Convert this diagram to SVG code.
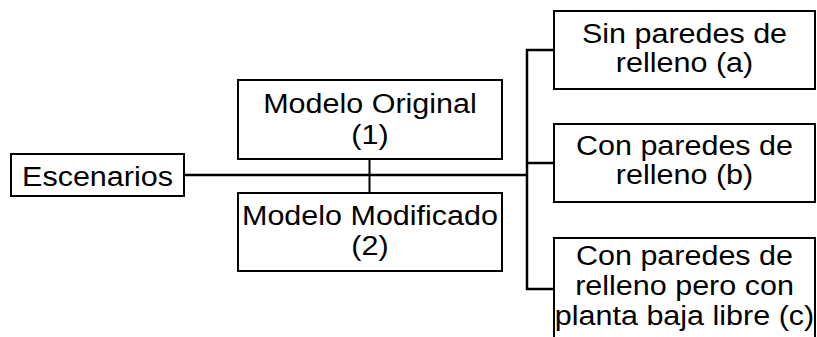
<svg xmlns="http://www.w3.org/2000/svg" width="817" height="337" viewBox="0 0 817 337">
  <style>
    .box { fill: #ffffff; stroke: #000000; stroke-width: 2; }
    .lbl { font-family: "Liberation Sans", Arial, sans-serif; font-size: 28px; fill: #000000; text-anchor: middle; }
    .wire { fill: none; stroke: #000000; stroke-width: 2.5; }
    .thin { fill: none; stroke: #000000; stroke-width: 2; }
  </style>
  <rect width="817" height="337" fill="#ffffff"/>

  <!-- connectors -->
  <g id="connectors">
    <line class="wire" x1="185" y1="175" x2="528" y2="175"/>
    <line class="thin" x1="369.5" y1="160" x2="369.5" y2="192"/>
    <polyline class="wire" points="553,50 527,50 527,289 553,289"/>
    <line class="wire" x1="527" y1="163" x2="553" y2="163"/>
  </g>

  <g id="escenarios">
    <rect class="box" x="11" y="154" width="173" height="42"/>
    <text class="lbl" transform="translate(97.5,185.5) scale(1.09,1)">Escenarios</text>
  </g>

  <g id="modelo-original">
    <rect class="box" x="238" y="80" width="264" height="79"/>
    <text class="lbl" transform="translate(370,0) scale(1.09,1)"><tspan x="0" y="113">Modelo Original</tspan><tspan x="0" y="144">(1)</tspan></text>
  </g>

  <g id="modelo-modificado">
    <rect class="box" x="238" y="193" width="264" height="78"/>
    <text class="lbl" transform="translate(370,0) scale(1.09,1)"><tspan x="0" y="225.5">Modelo Modificado</tspan><tspan x="0" y="255.5">(2)</tspan></text>
  </g>

  <g id="sin-paredes">
    <rect class="box" x="554" y="11" width="261" height="78"/>
    <text class="lbl" transform="translate(684.5,0) scale(1.09,1)"><tspan x="0" y="43.5">Sin paredes de</tspan><tspan x="0" y="72.5">relleno (a)</tspan></text>
  </g>

  <g id="con-paredes">
    <rect class="box" x="554" y="124" width="261" height="78"/>
    <text class="lbl" transform="translate(684.5,0) scale(1.09,1)"><tspan x="0" y="155.5">Con paredes de</tspan><tspan x="0" y="184.5">relleno (b)</tspan></text>
  </g>

  <g id="planta-baja-libre">
    <rect class="box" x="554" y="238" width="261" height="110"/>
    <text class="lbl" transform="translate(684.5,0) scale(1.09,1)"><tspan x="0" y="265.5">Con paredes de</tspan><tspan x="0" y="295.5">relleno pero con</tspan><tspan x="0" y="325.5">planta baja libre (c)</tspan></text>
  </g>
</svg>
